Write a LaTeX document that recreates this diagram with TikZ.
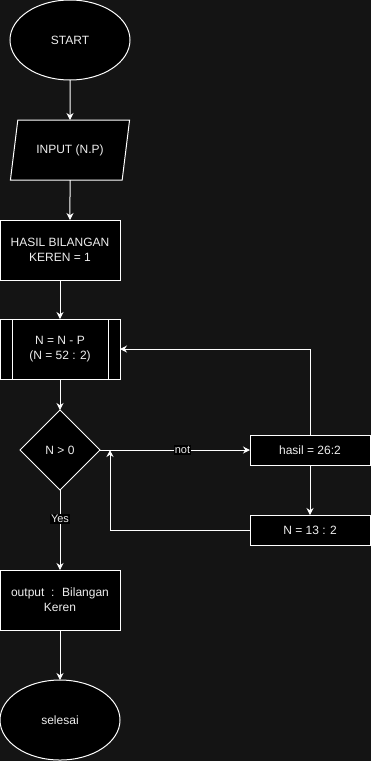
\documentclass[tikz,border=0pt]{standalone}
\usepackage{fontspec}
\setmainfont{Liberation Sans}
\usepackage{xcolor}
\usetikzlibrary{shapes.geometric, positioning, arrows.meta}

\definecolor{canvas}{HTML}{141414}
\definecolor{txt}{HTML}{EEEEEE}

\begin{document}
\begin{tikzpicture}[x=1pt, y=-1pt, node distance=40pt, >={Stealth[length=7pt,width=7pt]},
    every node/.style={font=\fontsize{12}{15}\selectfont, text=txt},
    shp/.style={draw=white, fill=black, line width=1pt, align=center, inner sep=2pt, outer sep=0pt},
    terminal/.style={shp, ellipse, minimum width=120pt, minimum height=80pt},
    io/.style={shp, trapezium, trapezium stretches=true, trapezium left angle=71.565,
        trapezium right angle=108.435, minimum width=120pt, minimum height=60pt},
    proc/.style={shp, rectangle, minimum width=120pt, minimum height=60pt},
    smallproc/.style={shp, rectangle, minimum width=120pt, minimum height=30pt},
    decision/.style={shp, diamond, minimum width=80pt, minimum height=80pt, inner sep=0pt},
    flow/.style={draw=white, line width=1pt, ->},
    lbl/.style={fill=black, inner sep=1pt, font=\fontsize{11}{13}\selectfont}]

    % canvas
    \fill[canvas] (0,0) rectangle (371,761);
    \useasboundingbox (0,0) rectangle (371,761);

    \node[terminal] (start) at (70,40) {START};
    \node[io] (input) [below=of start] {INPUT (N.P)};
    \node[proc] (hasil) [below=of input, xshift=-10pt] {HASIL BILANGAN\\KEREN = 1};
    \node[proc] (kurang) [below=39pt of hasil] {N = N - P\\(N = 52 : 2)};
    \draw[white, line width=1pt]
        ([xshift=12pt]kurang.north west) -- ([xshift=12pt]kurang.south west)
        ([xshift=-12pt]kurang.north east) -- ([xshift=-12pt]kurang.south east);
    \node[decision] (cek) [below=31pt of kurang] {N > 0};
    \node[smallproc] (bagi) [right=150pt of cek] {hasil = 26:2};
    \node[smallproc] (baru) [below=50pt of bagi] {N = 13 : 2};
    \node[proc] (output) [below=80pt of cek] {output~ :~ Bilangan\\Keren};
    \node[terminal] (selesai) [below=50pt of output] {selesai};
    \coordinate[right=10pt of cek.east] (balik);

    \path[flow]
    (start) edge[flow] (input)
    (input) edge[flow] (input |- hasil.north)
    (hasil) edge[flow] (kurang)
    (kurang) edge[flow] (cek)
    (cek) edge[flow] node[lbl, pos=0.55] {not} (bagi)
    (bagi) edge[flow] (baru)
    (cek) edge[flow] node[lbl, pos=0.36] {Yes} (output)
    (output) edge[flow] (selesai);

    \draw[flow] (bagi) |- (kurang);
    \draw[flow] (baru) -| (balik);
\end{tikzpicture}
\end{document}
